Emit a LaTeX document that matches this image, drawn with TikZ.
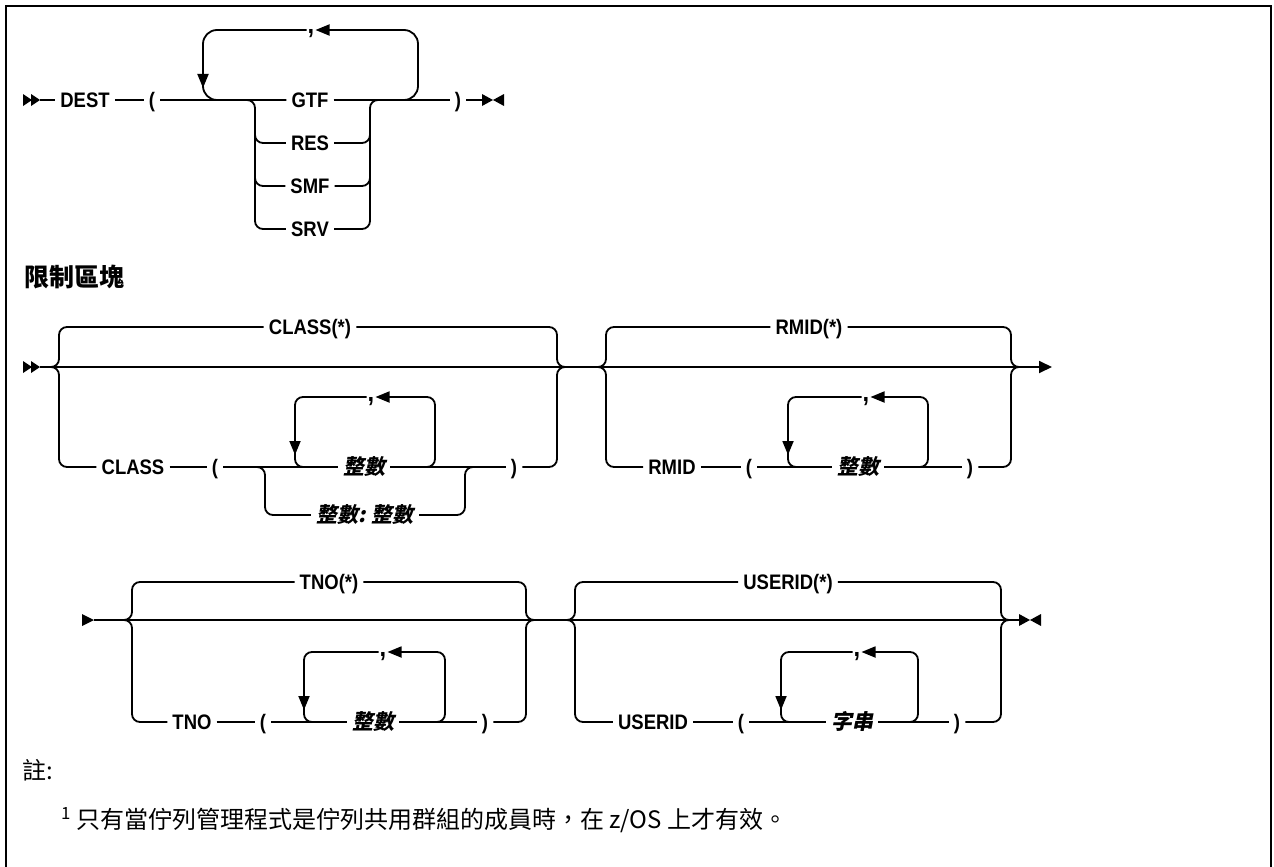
\documentclass[tikz,border=0pt]{standalone}
\usepackage{fontspec}
\setmainfont{Liberation Sans}[FakeStretch=0.88]
\newfontfamily\cjk{Noto Sans CJK TC}
\newfontfamily\cjkit[FakeSlant=0.2]{Noto Sans CJK TC}
\usetikzlibrary{arrows.meta, positioning, calc}

\newcommand\kwfont{\bfseries\fontsize{21pt}{22pt}\selectfont}
\newcommand\varfont{\cjkit\bfseries\fontsize{21pt}{22pt}\selectfont}

\tikzset{
  kw/.style={font=\kwfont, inner xsep=5pt, inner ysep=0pt,
             text height=15pt, text depth=0pt},
  var/.style={font=\varfont, inner xsep=5pt, inner ysep=0pt,
              text height=15pt, text depth=0pt},
  sepc/.style={font=\bfseries\fontsize{27pt}{28pt}\selectfont, inner sep=1pt, anchor=base},
  rail/.style={line width=1.8pt, rounded corners=8pt},
  loopar/.style={-{Triangle[length=14pt,width=11pt]}},
  dblhead/.pic={\fill (0,-6) -- (9,0) -- (0,6) -- cycle
                      (8,-6) -- (17,0) -- (8,6) -- cycle;},
  onehead/.pic={\fill (0,-6) -- (12,0) -- (0,6) -- cycle;},
  stopmark/.pic={\fill (0,-6) -- (11,0) -- (0,6) -- cycle
                       (22,-6) -- (11,0) -- (22,6) -- cycle;},
}

\begin{document}
\begin{tikzpicture}[x=1pt, y=-1pt]
\useasboundingbox (0,0) rectangle (1274,867);
\draw[line width=2.6pt] (6,867) -- (6,6) -- (1271,6) -- (1271,867);

% DEST
\pic at (23,100) {dblhead};
\coordinate (d0) at (40,100);
\coordinate (d1) at (482,100);
\pic at (d1) {stopmark};
\node[kw] (dest) at (85,100) {DEST};
\node[kw] (dlp) at (152,100) {(};
\node[kw] (gtf) at (310,100) {GTF};
\node[kw] (res) at (310,143) {RES};
\node[kw] (smf) at (310,186) {SMF};
\node[kw] (srv) at (310,229) {SRV};
\node[kw] (drp) at (458,100) {)};
\node[sepc] (dcm) at (311,34) {,};
\draw[rail] (d0) -- (dest) (dest) -- (dlp) (dlp) -- (gtf)
            (gtf) -- (drp) (drp) -- (d1);
\coordinate (dla) at (203,30);
\coordinate (dlb) at (418,30);
\draw[rail, rounded corners=14pt, loopar] ($(dlb |- gtf)+(-20,0)$) -| (dlb) -- (dlb -| dcm.east);
\draw[rail, rounded corners=14pt, loopar] (dla -| dcm.west) -| ($(dla)+(0,58)$);
\draw[rail, rounded corners=14pt] ($(dla)+(0,40)$) |- (gtf.west);
\coordinate (dbl) at (255,229);
\coordinate (dbr) at (370,100);
\draw[rail] ($(dbl |- gtf)+(-12,0)$) -| (dbl) -- (srv.west);
\draw[rail] ($(dbl |- res)+(0,-20)$) |- (res.west);
\draw[rail] ($(dbl |- smf)+(0,-20)$) |- (smf.west);
\draw[rail] (srv.east) -| (dbr) -- ++(12,0);
\draw[rail] (res.east) -| ($(dbr |- res)+(0,-20)$);
\draw[rail] (smf.east) -| ($(dbr |- smf)+(0,-20)$);

\node[anchor=west, inner sep=0pt, font=\cjk\bfseries\fontsize{25pt}{26pt}\selectfont]
  (ttl) at (24,277) {限制區塊};

% CLASS / RMID
\pic at (23,367) {dblhead};
\coordinate (b1s) at (40,367);
\coordinate (b1l) at (51,367);
\coordinate (b1r) at (565,367);
\coordinate (b2l) at (598,367);
\coordinate (b2r) at (1019,367);
\coordinate (b2e) at (1052,367);
\draw[rail, -{Triangle[length=13pt,width=12pt]}] (b1s) -- (b2e);

\node[kw] (cls) at (310,327) {CLASS(*)};
\node[kw] (clsb) at (133,467) {CLASS};
\node[kw] (clp) at (215,467) {(};
\node[var] (cint) at (364,467) {整數};
\node[kw] (crp) at (514,467) {)};
\node[var] (crng) at (365,515) {整數: 整數};
\node[sepc] (ccm) at (371,401) {,};
\draw[rail] (b1l) -- ++(8,0) |- (cls.west);
\draw[rail] (b1l) -- ++(8,0) |- (clsb.west);
\draw[rail] (cls.east) -| ($(b1r)+(-8,0)$) -- (b1r);
\draw[rail] (crp.east) -| ($(b1r)+(-8,0)$) -- (b1r);
\draw[rail] (clsb) -- (clp) (clp) -- (cint) (cint) -- (crp);
\coordinate (c1a) at (295,397);
\coordinate (c1b) at (435,397);
\draw[rail, loopar] (cint.east) -| (c1b) -- (c1b -| ccm.east);
\draw[rail, loopar] (c1a -| ccm.west) -| ($(c1a)+(0,58)$);
\draw[rail] ($(c1a)+(0,40)$) |- (cint.west);
\coordinate (c1c) at (265,515);
\coordinate (c1d) at (465,467);
\draw[rail] ($(c1c |- clp)+(-12,0)$) -| (c1c) -- (crng.west);
\draw[rail] (crng.east) -| (c1d) -- ++(12,0);

\node[kw] (rmid) at (809,327) {RMID(*)};
\node[kw] (rmidb) at (672,467) {RMID};
\node[kw] (rlp) at (749,467) {(};
\node[var] (rint) at (858,467) {整數};
\node[kw] (rrp) at (970,467) {)};
\node[sepc] (rcm) at (866,401) {,};
\draw[rail] (b2l) -- ++(8,0) |- (rmid.west);
\draw[rail] (b2l) -- ++(8,0) |- (rmidb.west);
\draw[rail] (rmid.east) -| ($(b2r)+(-8,0)$) -- (b2r);
\draw[rail] (rrp.east) -| ($(b2r)+(-8,0)$) -- (b2r);
\draw[rail] (rmidb) -- (rlp) (rlp) -- (rint) (rint) -- (rrp);
\coordinate (r1a) at (788,397);
\coordinate (r1b) at (928,397);
\draw[rail, loopar] (rint.east) -| (r1b) -- (r1b -| rcm.east);
\draw[rail, loopar] (r1a -| rcm.west) -| ($(r1a)+(0,58)$);
\draw[rail] ($(r1a)+(0,40)$) |- (rint.west);

% TNO / USERID
\pic at (82,620) {onehead};
\coordinate (b3s) at (94,620);
\coordinate (b3l) at (124,620);
\coordinate (b3r) at (534,620);
\coordinate (b4l) at (567,620);
\coordinate (b4r) at (1009,620);
\coordinate (b4e) at (1019,620);
\pic at (b4e) {stopmark};
\draw[rail] (b3s) -- (b4e);

\node[kw] (tno) at (329,582) {TNO(*)};
\node[kw] (tnob) at (192,722) {TNO};
\node[kw] (tlp) at (263,722) {(};
\node[var] (tint) at (373,722) {整數};
\node[kw] (trp) at (485,722) {)};
\node[sepc] (tcm) at (383,656) {,};
\draw[rail] (b3l) -- ++(8,0) |- (tno.west);
\draw[rail] (b3l) -- ++(8,0) |- (tnob.west);
\draw[rail] (tno.east) -| ($(b3r)+(-8,0)$) -- (b3r);
\draw[rail] (trp.east) -| ($(b3r)+(-8,0)$) -- (b3r);
\draw[rail] (tnob) -- (tlp) (tlp) -- (tint) (tint) -- (trp);
\coordinate (t1a) at (304,652);
\coordinate (t1b) at (445,652);
\draw[rail, loopar] (tint.east) -| (t1b) -- (t1b -| tcm.east);
\draw[rail, loopar] (t1a -| tcm.west) -| ($(t1a)+(0,58)$);
\draw[rail] ($(t1a)+(0,40)$) |- (tint.west);

\node[kw] (usr) at (788,582) {USERID(*)};
\node[kw] (usrb) at (653,722) {USERID};
\node[kw] (ulp) at (741,722) {(};
\node[var] (ustr) at (852,722) {字串};
\node[kw] (urp) at (957,722) {)};
\node[sepc] (ucm) at (857,656) {,};
\draw[rail] (b4l) -- ++(8,0) |- (usr.west);
\draw[rail] (b4l) -- ++(8,0) |- (usrb.west);
\draw[rail] (usr.east) -| ($(b4r)+(-8,0)$) -- (b4r);
\draw[rail] (urp.east) -| ($(b4r)+(-8,0)$) -- (b4r);
\draw[rail] (usrb) -- (ulp) (ulp) -- (ustr) (ustr) -- (urp);
\coordinate (u1a) at (781,652);
\coordinate (u1b) at (918,652);
\draw[rail, loopar] (ustr.east) -| (u1b) -- (u1b -| ucm.east);
\draw[rail, loopar] (u1a -| ucm.west) -| ($(u1a)+(0,58)$);
\draw[rail] ($(u1a)+(0,40)$) |- (ustr.west);

% notes
\node[anchor=west, inner sep=0pt, font=\cjk\fontsize{24pt}{26pt}\selectfont]
  (nt) at (22,770) {註:};
\node[anchor=west, inner sep=0pt, font=\cjk\fontsize{24pt}{26pt}\selectfont]
  (fn) at (61,820) {\textsuperscript{1}\hspace{5pt}只有當佇列管理程式是佇列共用群組的成員時，在 z/OS 上才有效。};
\end{tikzpicture}
\end{document}
